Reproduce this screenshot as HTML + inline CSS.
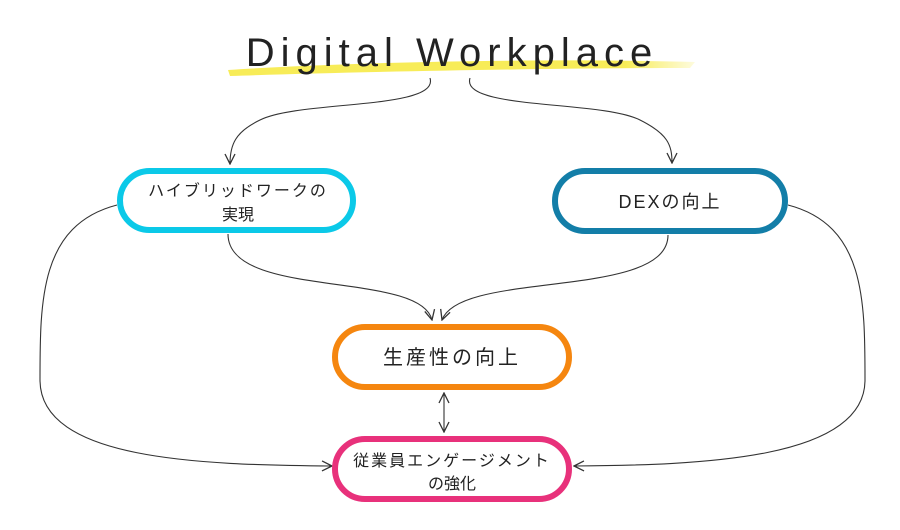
<!DOCTYPE html>
<html><head><meta charset="utf-8"><style>
html,body{margin:0;padding:0;background:#fff;}
svg{display:block}
text{font-family:"Liberation Sans","Noto Sans CJK JP",sans-serif;fill:#222}
</style></head><body>
<svg width="900" height="530" viewBox="0 0 900 530" xmlns="http://www.w3.org/2000/svg">
<defs>
<marker id="a" viewBox="0 0 12 12" refX="11" refY="6" markerWidth="12" markerHeight="12" markerUnits="userSpaceOnUse" orient="auto-start-reverse">
<path d="M1,1 L11,6 L1,11" fill="none" stroke="#333" stroke-width="1.3"/>
</marker>
<linearGradient id="g" x1="0" x2="1" y1="0" y2="0">
<stop offset="0" stop-color="#f6e93a"/><stop offset="0.85" stop-color="#f6e93a"/><stop offset="1" stop-color="#f6e93a" stop-opacity="0.2"/>
</linearGradient>
</defs>
<path d="M228,70 C350,62 550,58 695,62 L690,68 C550,68 350,72 230,76 Z" fill="url(#g)" opacity="0.85"/>
<text x="452" y="66" font-size="40" text-anchor="middle" letter-spacing="6">Digital Workplace</text>
<g fill="none" stroke="#333" stroke-width="1.1">
<path d="M430,78 C440,110 300,100 260,120 C235,132 230,145 230,164" marker-end="url(#a)"/>
<path d="M470,78 C460,110 600,100 640,120 C668,134 672,145 672,163" marker-end="url(#a)"/>
<path d="M117,205 C40,225 40,300 40,380 C40,460 200,465 332,466" marker-end="url(#a)"/>
<path d="M788,205 C865,225 865,300 865,380 C865,460 700,465 574,466" marker-end="url(#a)"/>
<path d="M228,234 C228,300 420,270 432,320" marker-end="url(#a)"/>
<path d="M668,235 C668,300 460,270 442,320" marker-end="url(#a)"/>
<path d="M444,393 L444,432" marker-start="url(#a)" marker-end="url(#a)"/>
</g>
<rect x="120" y="171" width="233" height="59" rx="29.5" fill="#fff" stroke="#0bc9e8" stroke-width="6"/>
<rect x="555" y="171" width="230" height="60" rx="30" fill="#fff" stroke="#137ea8" stroke-width="6"/>
<rect x="335" y="327" width="234" height="60" rx="30" fill="#fff" stroke="#f5860f" stroke-width="6"/>
<rect x="335" y="439" width="234" height="60" rx="30" fill="#fff" stroke="#e8317b" stroke-width="6"/>
<text x="238" y="196" font-size="16" text-anchor="middle" letter-spacing="2">ハイブリッドワークの</text>
<text x="238" y="220" font-size="16" text-anchor="middle">実現</text>
<text x="670" y="208" font-size="18" text-anchor="middle" letter-spacing="2">DEXの向上</text>
<text x="452" y="364" font-size="20" text-anchor="middle" letter-spacing="3">生産性の向上</text>
<text x="452" y="466" font-size="16" text-anchor="middle" letter-spacing="2">従業員エンゲージメント</text>
<text x="452" y="489" font-size="16" text-anchor="middle">の強化</text>
</svg>
</body></html>
